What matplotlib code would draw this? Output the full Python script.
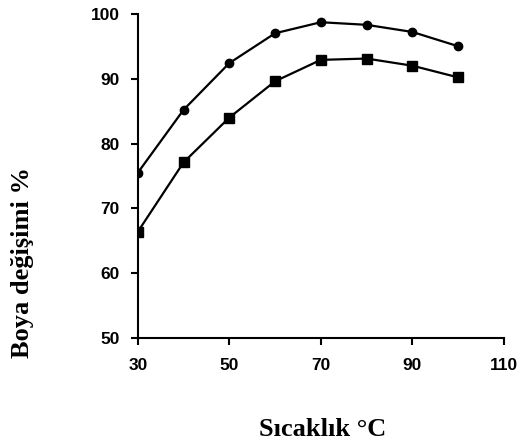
import matplotlib.pyplot as plt

# Sicaklik (x) and boya degisimi (y) values
sicaklik = [30, 40, 50, 60, 70, 80, 90, 100]
seri_daire = [75.5, 85.2, 92.4, 97.0, 98.7, 98.3, 97.2, 95.0]
seri_kare = [66.4, 77.1, 84.0, 89.6, 92.9, 93.1, 92.0, 90.2]

x_ticks = [30, 50, 70, 90, 110]
y_ticks = [50, 60, 70, 80, 90, 100]

fig = plt.figure(figsize=(5.2, 4.45), dpi=100)
ax = fig.add_axes([0.265, 0.240, 0.704, 0.729])

ax.plot(sicaklik, seri_daire, color='black', lw=1.6, marker='o', ms=6)
ax.plot(sicaklik, seri_kare, color='black', lw=1.6, marker='s', ms=6.5)

ax.set_xlim(30, 110)
ax.set_ylim(50, 100)
ax.set_xticks(x_ticks)
ax.set_yticks(y_ticks)

for s in ['top', 'right']:
    ax.spines[s].set_visible(False)
for s in ['left', 'bottom']:
    ax.spines[s].set_linewidth(1.5)
    ax.spines[s].set_clip_on(False)

ax.tick_params(direction='out', length=5, width=1.5)
ax.tick_params(axis='y', pad=8)
ax.tick_params(axis='x', pad=9)
for lbl in ax.get_xticklabels() + ax.get_yticklabels():
    lbl.set_fontfamily('Liberation Sans')
    lbl.set_fontweight('bold')
    lbl.set_fontsize(12.5)

fig.text(0.621, 0.034, 'Sıcaklık °C', ha='center', va='center',
         family='Liberation Serif', weight='bold', fontsize=19)
fig.text(0.044, 0.411, 'Boya değişimi %', ha='center', va='center', rotation=90,
         family='Liberation Serif', weight='bold', fontsize=19)

fig.savefig('out.png', dpi=100)
